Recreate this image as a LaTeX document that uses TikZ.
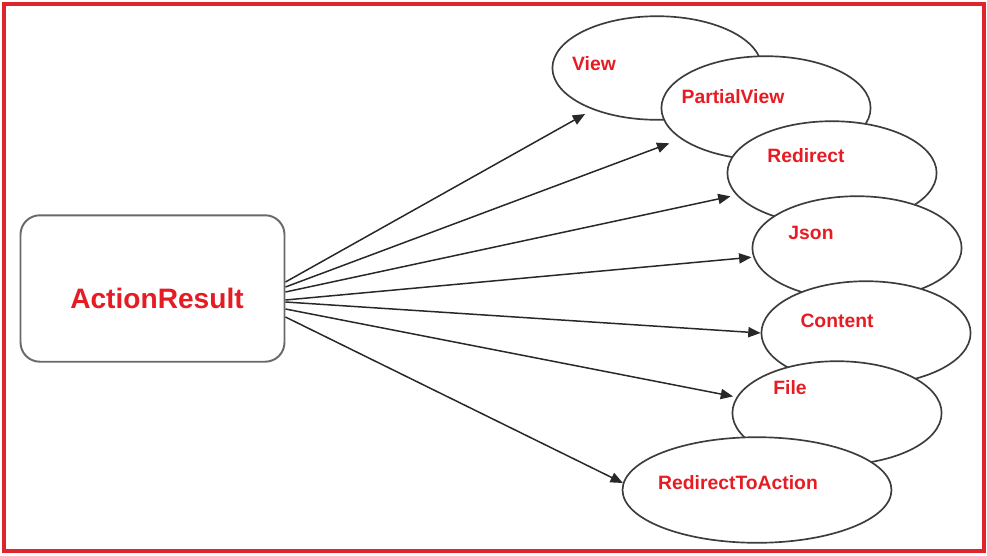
\documentclass[tikz,border=0pt]{standalone}
\usepackage{fontspec}
\setmainfont{Liberation Sans}
\usetikzlibrary{shapes.geometric,arrows.meta,calc}
\definecolor{brdred}{RGB}{222,36,44}
\definecolor{txtred}{RGB}{230,28,36}
\definecolor{ellgray}{RGB}{60,60,60}
\definecolor{boxgray}{RGB}{105,105,105}
\definecolor{arrgray}{RGB}{40,40,40}
\begin{document}
\begin{tikzpicture}[x=0.02cm,y=-0.02cm,
  frame/.style={draw=brdred,line width=1.8pt},
  mainbox/.style={draw=boxgray,line width=1.1pt,rounded corners=11pt,fill=white,
    minimum width=265*0.567pt,minimum height=147*0.567pt,inner sep=0pt},
  oval/.style={ellipse,draw=ellgray,line width=0.95pt,fill=white,inner sep=0pt,
    minimum width=210*0.567pt,minimum height=104*0.567pt},
  lbl/.style={text=txtred,font=\bfseries\fontsize{11pt}{13pt}\selectfont,inner sep=0pt},
  biglbl/.style={text=txtred,font=\bfseries\fontsize{16pt}{19pt}\selectfont,inner sep=0pt},
  conn/.style={draw=arrgray,line width=0.85pt,-{Triangle[length=7pt,width=5.8pt]}}
]
\useasboundingbox (0,0) rectangle (987,555);
\fill[white] (0,0) rectangle (987,555);
\draw[frame] (4,4) rectangle (984,551);

% main box
\node[mainbox] (AR) at (152.5,288.5) {};
\node[biglbl] (ARt) at (157,298) {ActionResult};

% ellipses, drawn in stacking order
\node[oval] (V) at (657,68) {};
\node[oval] (PV) at (766,108) {};
\node[oval] (R) at (832,173) {};
\node[oval] (J) at (857,248) {};
\node[oval] (C) at (866,333) {};
\node[oval] (F) at (837,413) {};
\node[oval,minimum width=270*0.567pt,minimum height=106*0.567pt] (RTA) at (757,490) {};

% labels
\node[lbl] (Vt) at (594,64) {View};
\node[lbl] (PVt) at (733,97) {PartialView};
\node[lbl] (Rt) at (806,156) {Redirect};
\node[lbl] (Jt) at (811,233) {Json};
\node[lbl] (Ct) at (837,321) {Content};
\node[lbl] (Ft) at (790,388) {File};
\node[lbl] (RTAt) at (738,483) {RedirectToAction};

% connectors
\draw[conn,shorten >=5pt] ($(AR.east)+(0,-6.5)$) -- (V.213);
\draw[conn,shorten >=7pt] ($(AR.east)+(0,-1.5)$) -- (PV.200);
\draw[conn,shorten >=3.4pt] ($(AR.east)+(0,3.5)$) -- (R.193.5);
\draw[conn,shorten >=1pt] ($(AR.east)+(0,11.5)$) -- (J.185.4);
\draw[conn] ($(AR.east)+(0,13.5)$) -- (C.180);
\draw[conn,shorten >=2pt] ($(AR.east)+(0,20.5)$) -- (F.171.3);
\draw[conn] ($(AR.east)+(0,28.5)$) -- (RTA.177.5);
\end{tikzpicture}
\end{document}
